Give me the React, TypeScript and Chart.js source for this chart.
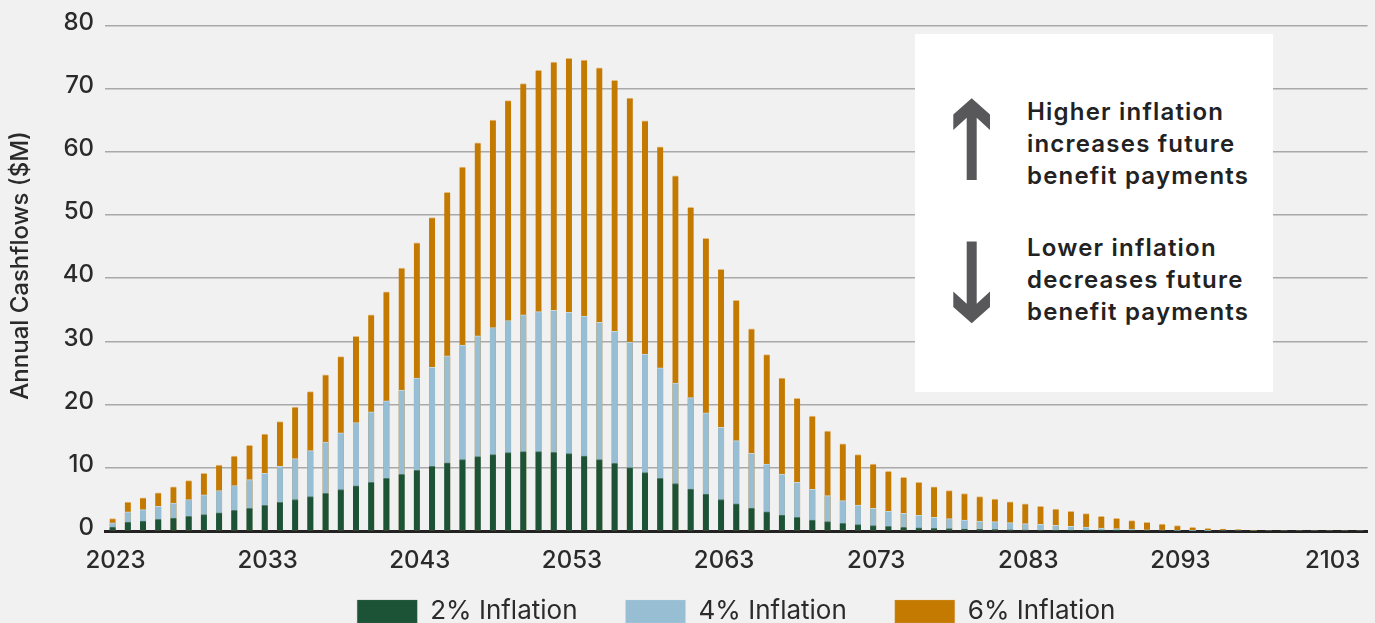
import React, { useEffect, useRef } from "react";
import { Chart, registerables } from "chart.js";

Chart.register(...registerables);

const years = [
  2023, 2024, 2025, 2026, 2027, 2028, 2029, 2030, 2031, 2032,
  2033, 2034, 2035, 2036, 2037, 2038, 2039, 2040, 2041, 2042,
  2043, 2044, 2045, 2046, 2047, 2048, 2049, 2050, 2051, 2052,
  2053, 2054, 2055, 2056, 2057, 2058, 2059, 2060, 2061, 2062,
  2063, 2064, 2065, 2066, 2067, 2068, 2069, 2070, 2071, 2072,
  2073, 2074, 2075, 2076, 2077, 2078, 2079, 2080, 2081, 2082,
  2083, 2084, 2085, 2086, 2087, 2088, 2089, 2090, 2091, 2092,
  2093, 2094, 2095, 2096, 2097, 2098, 2099, 2100, 2101, 2102,
  2103, 2104, 2105,
];

const inflation2 = [
  0.63, 1.42, 1.58, 1.84, 2.05, 2.31, 2.58, 2.89, 3.26, 3.57,
  4.05, 4.52, 4.99, 5.46, 5.98, 6.57, 7.15, 7.72, 8.35, 8.98,
  9.6, 10.24, 10.77, 11.3, 11.76, 12.08, 12.4, 12.55, 12.55, 12.45,
  12.24, 11.87, 11.3, 10.7, 10.03, 9.24, 8.35, 7.51, 6.62, 5.83,
  4.99, 4.31, 3.62, 3.05, 2.52, 2.16, 1.73, 1.48, 1.21, 1.0,
  0.85, 0.74, 0.58, 0.52, 0.42, 0.37, 0.31, 0.26, 0.22, 0.18,
  0.15, 0.12, 0.1, 0.08, 0.06, 0.05, 0.04, 0, 0, 0,
  0, 0, 0, 0, 0, 0, 0, 0, 0, 0,
  0, 0, 0,
];

const inflation4 = [
  1.3, 3.05, 3.37, 3.89, 4.41, 4.99, 5.73, 6.41, 7.2, 8.14,
  9.13, 10.24, 11.45, 12.71, 14.08, 15.54, 17.17, 18.85, 20.6, 22.3,
  24.2, 25.9, 27.7, 29.4, 30.9, 32.2, 33.3, 34.2, 34.7, 34.9,
  34.6, 34.0, 33.0, 31.6, 29.9, 28.0, 25.8, 23.4, 21.1, 18.7,
  16.4, 14.3, 12.3, 10.6, 9.0, 7.7, 6.6, 5.6, 4.8, 4.1,
  3.6, 3.1, 2.79, 2.47, 2.16, 1.95, 1.73, 1.58, 1.48, 1.32,
  1.16, 1.05, 0.9, 0.74, 0.63, 0.47, 0.37, 0.32, 0.2, 0.15,
  0.1, 0.06, 0.04, 0, 0, 0, 0, 0, 0, 0,
  0, 0, 0,
];

const inflation6 = [
  1.95, 4.57, 5.26, 6.05, 6.99, 7.98, 9.13, 10.45, 11.87, 13.54,
  15.34, 17.32, 19.59, 22.05, 24.7, 27.6, 30.8, 34.2, 37.86, 41.6,
  45.6, 49.6, 53.6, 57.6, 61.4, 65.0, 68.1, 70.8, 72.9, 74.2,
  74.8, 74.5, 73.3, 71.3, 68.5, 64.9, 60.8, 56.2, 51.2, 46.3,
  41.4, 36.5, 32.0, 27.9, 24.2, 21.0, 18.2, 15.8, 13.8, 12.1,
  10.6, 9.45, 8.5, 7.7, 6.99, 6.4, 5.94, 5.46, 5.04, 4.62,
  4.31, 3.89, 3.47, 3.1, 2.74, 2.31, 2.0, 1.63, 1.37, 1.1,
  0.85, 0.58, 0.42, 0.31, 0.22, 0.08, 0, 0, 0, 0,
  0, 0, 0,
];

const seriesLabels = ["2% Inflation", "4% Inflation", "6% Inflation"];
const seriesColors = ["#1c5236", "#98bed4", "#c47a00"];
const seriesTopColors = ["#4f7862", "#c3dae6", "#e3bd80"];
const yAxisTitle = "Annual Cashflows ($M)";
const yMin = 0;
const yMax = 80;
const yStep = 10;
const labelEvery = 10;
const noteHigher = ["Higher inflation", "increases future", "benefit payments"];
const noteLower = ["Lower inflation", "decreases future", "benefit payments"];

const FONT = "Inter, 'DejaVu Sans', sans-serif";

// place the legend row under the plot area (centred on it), just below the year labels
const legendToPlotArea = {
  id: "legendToPlotArea",
  afterLayout(chart: any) {
    const lg = chart.legend;
    if (!lg) return;
    const h = lg.bottom - lg.top;
    lg.left = chart.chartArea.left;
    lg.right = chart.chartArea.right;
    lg.top = chart.chartArea.bottom + 19.5;
    lg.bottom = lg.top + h;
  },
};

export default function App() {
  const ref = useRef<HTMLCanvasElement>(null);

  useEffect(() => {
    if (!ref.current) return;
    const seriesData = [inflation2, inflation4, inflation6];
    const chart = new Chart(ref.current, {
      type: "bar",
      data: {
        labels: years.map(String),
        datasets: seriesData.map((d, i) => ({
          label: seriesLabels[i],
          data: d,
          backgroundColor: seriesColors[i],
          borderColor: seriesTopColors[i],
          borderWidth: { top: 1, left: 0, right: 0, bottom: 0 },
          borderSkipped: "start",
          grouped: false,
          barThickness: 6,
        })),
      },
      options: {
        responsive: true,
        maintainAspectRatio: false,
        animation: false,
        layout: { padding: { top: 22, right: 6, left: 0, bottom: 0 } },
        plugins: {
          tooltip: { enabled: false },
          legend: {
            display: true,
            position: "bottom",
            labels: {
              boxWidth: 60,
              boxHeight: 23,
              padding: 48,
              color: "#2b2b2b",
              font: { family: FONT, size: 26, weight: "400" },
            },
          },
        },
        scales: {
          x: {
            grid: { display: false, drawTicks: false },
            border: { display: true, color: "#222222", width: 3 },
            ticks: {
              autoSkip: false,
              maxRotation: 0,
              padding: 15,
              labelOffset: 3,
              color: "#2a2a2a",
              font: { family: FONT, size: 24, weight: "500" },
              callback: (_v: any, i: number) => (i % labelEvery === 0 ? String(years[i]) : ""),
            },
            afterFit: (scale: any) => {
              scale.height = 45;
            },
          },
          y: {
            min: yMin,
            max: yMax,
            grid: { color: "#a9a9a9", lineWidth: 1.5, drawTicks: false },
            border: { display: false },
            ticks: {
              stepSize: yStep,
              padding: 11,
              labelOffset: -3,
              color: "#2a2a2a",
              font: { family: FONT, size: 24, weight: "500" },
            },
            title: {
              display: true,
              text: "    " + yAxisTitle,
              color: "#2a2a2a",
              padding: { top: 6, bottom: 0 },
              font: { family: FONT, size: 24, weight: "500" },
            },
            afterFit: (scale: any) => {
              scale.width = 105;
            },
          },
        },
      },
      plugins: [legendToPlotArea],
    });
    return () => chart.destroy();
  }, []);

  const arrowColor = "#58585a";
  const upArrow =
    "971.7,98.3 990,114.5 990,130 976.7,117.8 976.7,180 966.7,180 966.7,117.8 953.3,130 953.3,114.5";
  const downArrow =
    "971.7,323.3 990,307.1 990,291.6 976.7,303.8 976.7,241.6 966.7,241.6 966.7,303.8 953.3,291.6 953.3,307.1";

  const textStyle: React.CSSProperties = {
    position: "absolute",
    left: 112,
    fontFamily: FONT,
    fontSize: 24,
    fontWeight: 600,
    letterSpacing: "1.2px",
    lineHeight: "32.3px",
    color: "#222222",
    whiteSpace: "nowrap",
  };

  return (
    <div
      style={{
        position: "fixed",
        left: 0,
        top: 0,
        width: 1375,
        height: 623,
        overflow: "hidden",
        background: "#f1f1f1",
      }}
    >
      <div style={{ position: "absolute", left: 0, top: 0, width: 1375, height: 660 }}>
        <canvas ref={ref} />
      </div>
      <div
        style={{
          position: "absolute",
          left: 915,
          top: 34,
          width: 358,
          height: 358,
          background: "#ffffff",
        }}
      >
        <div style={{ ...textStyle, top: 61.5 }}>
          {noteHigher.map((t, i) => (
            <div key={i}>{t}</div>
          ))}
        </div>
        <div style={{ ...textStyle, top: 197.5 }}>
          {noteLower.map((t, i) => (
            <div key={i}>{t}</div>
          ))}
        </div>
      </div>
      <svg
        width={1375}
        height={623}
        style={{ position: "absolute", left: 0, top: 0, pointerEvents: "none" }}
      >
        <polygon points={upArrow} fill={arrowColor} />
        <polygon points={downArrow} fill={arrowColor} />
      </svg>
    </div>
  );
}
